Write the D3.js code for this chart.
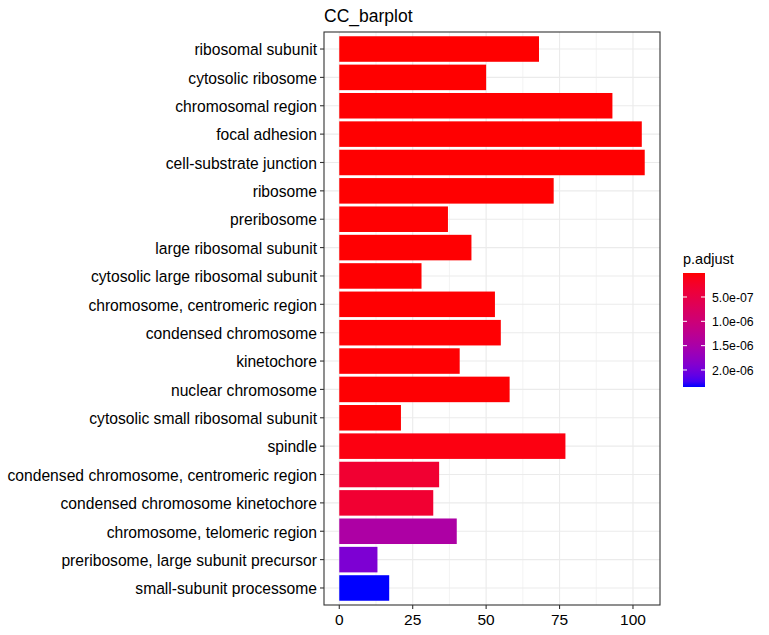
<!DOCTYPE html>
<html><head><meta charset="utf-8">
<script src="https://cdn.jsdelivr.net/npm/d3@7"></script>
<style>body{margin:0;background:#fff}svg{display:block}text{font-family:"Liberation Sans",Arial,sans-serif}</style>
</head><body><svg id="c" width="769" height="635"></svg>
<script>
const categories = ["ribosomal subunit","cytosolic ribosome","chromosomal region","focal adhesion","cell-substrate junction","ribosome","preribosome","large ribosomal subunit","cytosolic large ribosomal subunit","chromosome, centromeric region","condensed chromosome","kinetochore","nuclear chromosome","cytosolic small ribosomal subunit","spindle","condensed chromosome, centromeric region","condensed chromosome kinetochore","chromosome, telomeric region","preribosome, large subunit precursor","small-subunit processome"];
const counts = [68,50,93,103,104,73,37,45,28,53,55,41,58,21,77,34,32,40,13,17];
const padj = [7e-9,8e-9,9e-9,1e-8,1.1e-8,1.2e-8,1.3e-8,1.4e-8,1.5e-8,1.6e-8,1.7e-8,1.8e-8,1.9e-8,2e-8,7.5e-8,3.1e-7,3.1e-7,1.46e-6,1.93e-6,2.35e-6];
const xTicks = [0,25,50,75,100];
const legendTicks = [5e-7,1e-6,1.5e-6,2e-6];
const title = "CC_barplot";
const legendTitle = "p.adjust";

const svg = d3.select("#c");
const L = 324, R = 660, T = 32, B = 605;
const xmax = d3.max(counts);
const x = d3.scaleLinear().domain([-0.05*xmax, 1.05*xmax]).range([L, R]);
const n = categories.length;
const step = (B - T) / (n - 1 + 1.2);
const y = d3.scalePoint().domain(categories).range([T + 0.6*step, B - 0.6*step]);
const pext = d3.extent(padj);
const color = d3.scaleLinear().domain(pext).range(["red","blue"]).interpolate(d3.interpolateLab);

// panel grid
const g = svg.append("g");
const minor = xTicks.slice(0,-1).map(d=>d+12.5);
g.selectAll(".mn").data(minor).enter().append("line")
  .attr("x1",d=>x(d)).attr("x2",d=>x(d)).attr("y1",T).attr("y2",B)
  .attr("stroke","#ebebeb").attr("stroke-width",0.6);
g.selectAll(".mj").data(xTicks).enter().append("line")
  .attr("x1",d=>x(d)).attr("x2",d=>x(d)).attr("y1",T).attr("y2",B)
  .attr("stroke","#ebebeb").attr("stroke-width",1.1);
g.selectAll(".hy").data(categories).enter().append("line")
  .attr("x1",L).attr("x2",R).attr("y1",d=>y(d)).attr("y2",d=>y(d))
  .attr("stroke","#ebebeb").attr("stroke-width",1.1);

// bars
const bw = step*0.9;
g.selectAll(".bar").data(categories).enter().append("rect")
  .attr("x",x(0)).attr("y",d=>y(d)-bw/2)
  .attr("width",(d,i)=>x(counts[i])-x(0)).attr("height",bw)
  .attr("fill",(d,i)=>color(padj[i]));

// border
svg.append("rect").attr("x",L).attr("y",T).attr("width",R-L).attr("height",B-T)
  .attr("fill","none").attr("stroke","#333").attr("stroke-width",1.1);

// x axis
const xa = svg.append("g");
xTicks.forEach(t=>{
  xa.append("line").attr("x1",x(t)).attr("x2",x(t)).attr("y1",B).attr("y2",B+4).attr("stroke","#333").attr("stroke-width",1.1);
  xa.append("text").attr("x",x(t)).attr("y",B+20).attr("text-anchor","middle").attr("font-size",15.5).attr("fill","#000").text(t);
});
// y axis
const ya = svg.append("g");
categories.forEach(c=>{
  ya.append("line").attr("x1",L-4).attr("x2",L).attr("y1",y(c)).attr("y2",y(c)).attr("stroke","#333").attr("stroke-width",1.1);
  ya.append("text").attr("x",L-7).attr("y",y(c)).attr("dy","0.4em").attr("text-anchor","end").attr("font-size",15.65).attr("fill","#000").text(c);
});

// title
svg.append("text").attr("x",L).attr("y",22).attr("font-size",17.5).attr("fill","#000").text(title);

// legend
const lx = 683, lw = 22, ly0 = 273, ly1 = 387;
const defs = svg.append("defs");
const grad = defs.append("linearGradient").attr("id","lg").attr("x1",0).attr("x2",0).attr("y1",0).attr("y2",1);
d3.range(0,1.0001,0.05).forEach(s=>{
  grad.append("stop").attr("offset",s).attr("stop-color",color(pext[0]+s*(pext[1]-pext[0])));
});
svg.append("rect").attr("x",lx).attr("y",ly0).attr("width",lw).attr("height",ly1-ly0).attr("fill","url(#lg)");
const ly = d3.scaleLinear().domain(pext).range([ly0, ly1]);
legendTicks.forEach(t=>{
  const yy = ly(t);
  svg.append("line").attr("x1",lx).attr("x2",lx+4).attr("y1",yy).attr("y2",yy).attr("stroke","#fff").attr("stroke-width",1);
  svg.append("line").attr("x1",lx+lw-4).attr("x2",lx+lw).attr("y1",yy).attr("y2",yy).attr("stroke","#fff").attr("stroke-width",1);
  svg.append("text").attr("x",lx+lw+7).attr("y",yy).attr("dy","0.38em").attr("font-size",12.3).attr("fill","#000").text(d3.format(".1e")(t).replace(/e-(\d)$/,"e-0$1"));
});
svg.append("text").attr("x",lx).attr("y",264).attr("font-size",14.5).attr("fill","#000").text(legendTitle);
</script></body></html>
